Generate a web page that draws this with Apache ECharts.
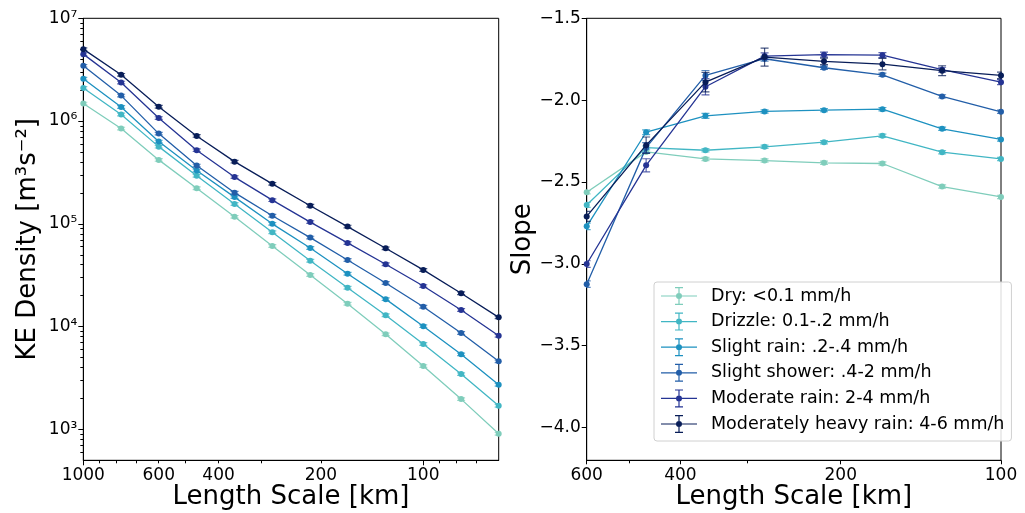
<!DOCTYPE html>
<html>
<head>
<meta charset="utf-8">
<script src="https://cdn.jsdelivr.net/npm/echarts@6/dist/echarts.min.js"></script>
<style>
html,body{margin:0;padding:0;background:#fff;}
#c{width:1025px;height:513px;}
</style>
</head>
<body>
<div id="c"></div>
<script>
// ---------- data ----------
const names = ['Dry: <0.1 mm/h', 'Drizzle: 0.1-.2 mm/h', 'Slight rain: .2-.4 mm/h',
  'Slight shower: .4-2 mm/h', 'Moderate rain: 2-4 mm/h', 'Moderately heavy rain: 4-6 mm/h'];
const colors = ['#7fcdbb', '#41b6c4', '#1d91c0', '#225ea8', '#253494', '#081d58'];

// left panel: length scale [km] and KE density
const lengthScales = [1000, 774, 600, 464, 359, 278, 215, 167, 129, 100, 77.4, 60];
const keDry       = [1.48e6, 8.45e5, 4.19e5, 2.22e5, 1.17e5, 6.09e4, 3.18e4, 1.67e4, 8.41e3, 4.13e3, 1.97e3, 906];
const keDrizzle   = [2.10e6, 1.16e6, 5.64e5, 2.94e5, 1.56e5, 8.28e4, 4.38e4, 2.39e4, 1.29e4, 6.77e3, 3.45e3, 1.70e3];
const keSlightRain= [2.58e6, 1.37e6, 6.32e5, 3.30e5, 1.82e5, 1.00e5, 5.82e4, 3.27e4, 1.85e4, 1.01e4, 5.37e3, 2.72e3];
const keShower    = [3.45e6, 1.77e6, 7.55e5, 3.69e5, 2.01e5, 1.20e5, 7.35e4, 4.45e4, 2.66e4, 1.56e4, 8.66e3, 4.59e3];
const keModerate  = [4.48e6, 2.37e6, 1.07e6, 5.21e5, 2.85e5, 1.70e5, 1.04e5, 6.52e4, 4.04e4, 2.48e4, 1.45e4, 8.15e3];
const keHeavy     = [5.01e6, 2.82e6, 1.38e6, 7.17e5, 4.03e5, 2.45e5, 1.50e5, 9.40e4, 5.78e4, 3.56e4, 2.11e4, 1.23e4];
const keRelErr    = [0.03, 0.03, 0.03, 0.03, 0.03, 0.03, 0.03, 0.03, 0.03, 0.03, 0.03, 0.03];

// right panel: length scale [km] and slope
const slopeScales = [600, 464, 359, 278, 215, 167, 129, 100];
const slDry        = [-2.563, -2.316, -2.359, -2.369, -2.383, -2.387, -2.528, -2.591];
const slDrizzle    = [-2.640, -2.290, -2.306, -2.285, -2.257, -2.218, -2.318, -2.359];
const slSlightRain = [-2.771, -2.196, -2.096, -2.069, -2.061, -2.055, -2.175, -2.240];
const slShower     = [-3.124, -2.290, -1.849, -1.747, -1.802, -1.845, -1.977, -2.071];
const slModerate   = [-3.001, -2.398, -1.918, -1.731, -1.722, -1.725, -1.814, -1.890];
const slHeavy      = [-2.710, -2.275, -1.890, -1.737, -1.763, -1.780, -1.820, -1.849];
const errDry        = [0.01, 0.01, 0.01, 0.01, 0.01, 0.01, 0.01, 0.01];
const errDrizzle    = [0.015, 0.01, 0.01, 0.01, 0.01, 0.01, 0.01, 0.01];
const errSlightRain = [0.02, 0.015, 0.015, 0.01, 0.01, 0.01, 0.01, 0.01];
const errShower     = [0.02, 0.03, 0.03, 0.015, 0.01, 0.01, 0.01, 0.01];
const errModerate   = [0.02, 0.04, 0.05, 0.02, 0.015, 0.015, 0.015, 0.015];
const errHeavy      = [0.03, 0.05, 0.06, 0.055, 0.02, 0.035, 0.03, 0.02];

// tick values
const keXLabels = [1000, 600, 400, 200, 100];
const keXMajor = [1000, 100];
const keXMinor = [900, 800, 700, 600, 500, 400, 300, 200, 90, 80, 70];
const keYMajor = [1e3, 1e4, 1e5, 1e6, 1e7];
const keYMinor = [600, 700, 800, 900, 2e3, 3e3, 4e3, 5e3, 6e3, 7e3, 8e3, 9e3,
  2e4, 3e4, 4e4, 5e4, 6e4, 7e4, 8e4, 9e4, 2e5, 3e5, 4e5, 5e5, 6e5, 7e5, 8e5, 9e5,
  2e6, 3e6, 4e6, 5e6, 6e6, 7e6, 8e6, 9e6];
const slXLabels = [600, 400, 200, 100];
const slXMinor = [500, 300];
const slYTicks = [-4.0, -3.5, -3.0, -2.5, -2.0, -1.5];

// ---------- chart ----------
const keSeries = [keDry, keDrizzle, keSlightRain, keShower, keModerate, keHeavy];
const slSeries = [slDry, slDrizzle, slSlightRain, slShower, slModerate, slHeavy];
const slErrs = [errDry, errDrizzle, errSlightRain, errShower, errModerate, errHeavy];

const FONT = 'DejaVu Sans';
const TICK_FS = 17;
const NAME_FS = 26;
const supMap = {'0':'\u2070','1':'\u00b9','2':'\u00b2','3':'\u00b3','4':'\u2074','5':'\u2075','6':'\u2076','7':'\u2077','8':'\u2078','9':'\u2079'};
function sciLabel(v) {
  const e = Math.round(Math.log10(v));
  return '10' + String(e).split('').map(c => supMap[c]).join('');
}
function minusFmt(v) { return v.toFixed(1).replace('-', '\u2212'); }

const G0 = {left: 83.3, top: 18.3, width: 415.4, height: 442};
const G1 = {left: 586.7, top: 18.3, width: 414.3, height: 442};

function baseAxis(extra) {
  return Object.assign({
    splitLine: {show: false},
    nameMoveOverlap: false,
    axisLine: {show: true, lineStyle: {color: '#000', width: 1}},
    axisTick: {show: true, lineStyle: {color: '#000', width: 1}},
    axisLabel: {show: true, color: '#000', fontFamily: FONT, fontSize: TICK_FS},
    nameTextStyle: {color: '#000', fontFamily: FONT, fontSize: NAME_FS}
  }, extra);
}

const xAxis = [
  baseAxis({gridIndex: 0, position: 'bottom', type: 'log', logBase: 10, min: 60, max: 1000, inverse: true,
    name: 'Length Scale [km]', nameLocation: 'middle', nameGap: 24,
    axisTick: {show: true, length: 5, customValues: keXMajor, lineStyle: {color: '#000'}},
    axisLabel: {show: true, color: '#000', fontFamily: FONT, fontSize: TICK_FS, margin: 7,
      customValues: keXLabels, formatter: v => String(Math.round(v))}}),
  baseAxis({gridIndex: 0, position: 'bottom', type: 'log', logBase: 10, min: 60, max: 1000, inverse: true,
    axisLine: {show: false},
    axisTick: {show: true, length: 3, customValues: keXMinor, lineStyle: {color: '#000'}},
    axisLabel: {show: false}}),
  baseAxis({gridIndex: 1, position: 'bottom', type: 'log', logBase: 10, min: 100, max: 600, inverse: true,
    name: 'Length Scale [km]', nameLocation: 'middle', nameGap: 24,
    axisTick: {show: true, length: 4, customValues: slXLabels, lineStyle: {color: '#000'}},
    axisLabel: {show: true, color: '#000', fontFamily: FONT, fontSize: TICK_FS, margin: 7,
      customValues: slXLabels, formatter: v => String(Math.round(v))}}),
  baseAxis({gridIndex: 1, position: 'bottom', type: 'log', logBase: 10, min: 100, max: 600, inverse: true,
    axisLine: {show: false},
    axisTick: {show: true, length: 3, customValues: slXMinor, lineStyle: {color: '#000'}},
    axisLabel: {show: false}})
];

const yAxis = [
  baseAxis({gridIndex: 0, position: 'left', type: 'log', logBase: 10, min: 500, max: 1e7,
    name: 'KE Density [m\u00b3s\u207b\u00b2]', nameLocation: 'middle', nameGap: 42,
    axisTick: {show: true, length: 5, customValues: keYMajor, lineStyle: {color: '#000'}},
    axisLabel: {show: true, color: '#000', fontFamily: FONT, fontSize: TICK_FS, margin: 6,
      customValues: keYMajor, formatter: v => sciLabel(v)}}),
  baseAxis({gridIndex: 0, position: 'left', type: 'log', logBase: 10, min: 500, max: 1e7,
    axisLine: {show: false},
    axisTick: {show: true, length: 3, customValues: keYMinor, lineStyle: {color: '#000'}},
    axisLabel: {show: false}}),
  baseAxis({gridIndex: 1, position: 'left', type: 'value', min: -4.2, max: -1.5,
    name: 'Slope', nameLocation: 'middle', nameGap: 50,
    axisTick: {show: true, length: 5, customValues: slYTicks, lineStyle: {color: '#000'}},
    axisLabel: {show: true, color: '#000', fontFamily: FONT, fontSize: TICK_FS, margin: 6,
      customValues: slYTicks, formatter: v => minusFmt(v)}})
];

function errSeries(xi, yi, data, color, cap) {
  return {
    type: 'custom', name: 'err', xAxisIndex: xi, yAxisIndex: yi, data: data,
    silent: true, clip: true,
    renderItem: function (params, api) {
      const x = api.value(0), lo = api.value(1), hi = api.value(2);
      const p1 = api.coord([x, lo]), p2 = api.coord([x, hi]);
      const st = {stroke: color, lineWidth: 1.2, opacity: 0.75};
      return {type: 'group', children: [
        {type: 'line', shape: {x1: p1[0], y1: p1[1], x2: p2[0], y2: p2[1]}, style: st},
        {type: 'line', shape: {x1: p1[0] - cap, y1: p1[1], x2: p1[0] + cap, y2: p1[1]}, style: st},
        {type: 'line', shape: {x1: p2[0] - cap, y1: p2[1], x2: p2[0] + cap, y2: p2[1]}, style: st}
      ]};
    }
  };
}

const series = [];
for (let s = 0; s < 6; s++) {
  const c = colors[s];
  series.push({
    type: 'line', name: names[s], xAxisIndex: 0, yAxisIndex: 0,
    data: lengthScales.map((x, i) => [x, keSeries[s][i]]),
    symbol: 'circle', symbolSize: 6, lineStyle: {color: c, width: 1.3},
    itemStyle: {color: c}, z: 2 + s
  });
  series.push(Object.assign(errSeries(0, 0,
    lengthScales.map((x, i) => [x, keSeries[s][i] * (1 - keRelErr[i]), keSeries[s][i] * (1 + keRelErr[i])]),
    c, 4), {z: 2 + s}));
  series.push({
    type: 'line', name: names[s], xAxisIndex: 2, yAxisIndex: 2,
    data: slopeScales.map((x, i) => [x, slSeries[s][i]]),
    symbol: 'circle', symbolSize: 6, lineStyle: {color: c, width: 1.3},
    itemStyle: {color: c}, z: 2 + s
  });
  series.push(Object.assign(errSeries(2, 2,
    slopeScales.map((x, i) => [x, slSeries[s][i] - slErrs[s][i], slSeries[s][i] + slErrs[s][i]]),
    c, 4), {z: 2 + s}));
}

const ICON = 'path://M0,8.4L36,8.4L36,9.6L0,9.6Z M17.4,0L18.6,0L18.6,18L17.4,18Z M14,0L22,0L22,1.2L14,1.2Z M14,16.8L22,16.8L22,18L14,18Z M15,9A3,3 0 1,1 21,9A3,3 0 1,1 15,9Z';

const gridBase = {show: true, borderColor: '#000', borderWidth: 1, backgroundColor: 'transparent',
  containLabel: false, outerBoundsMode: 'none'};

const option = {
  animation: false,
  backgroundColor: '#fff',
  grid: [Object.assign({}, gridBase, G0), Object.assign({}, gridBase, G1)],
  xAxis: xAxis,
  yAxis: yAxis,
  legend: {
    show: true, orient: 'vertical', left: 654, top: 282,
    data: names.map(n => ({name: n, icon: ICON})),
    itemWidth: 36, itemHeight: 18, itemGap: 7.6,
    padding: [5, 7, 8, 7],
    backgroundColor: 'rgba(255,255,255,0.85)', borderColor: '#d0d0d0', borderWidth: 1, borderRadius: 3,
    itemStyle: {borderWidth: 0},
    textStyle: {color: '#000', fontFamily: FONT, fontSize: 17.5, padding: [0, 0, 0, 9]},
    selectedMode: false, z: 20
  },
  series: series
};

const chart = echarts.init(document.getElementById('c'), null, {renderer: 'canvas'});
chart.setOption(option);
</script>
</body>
</html>
